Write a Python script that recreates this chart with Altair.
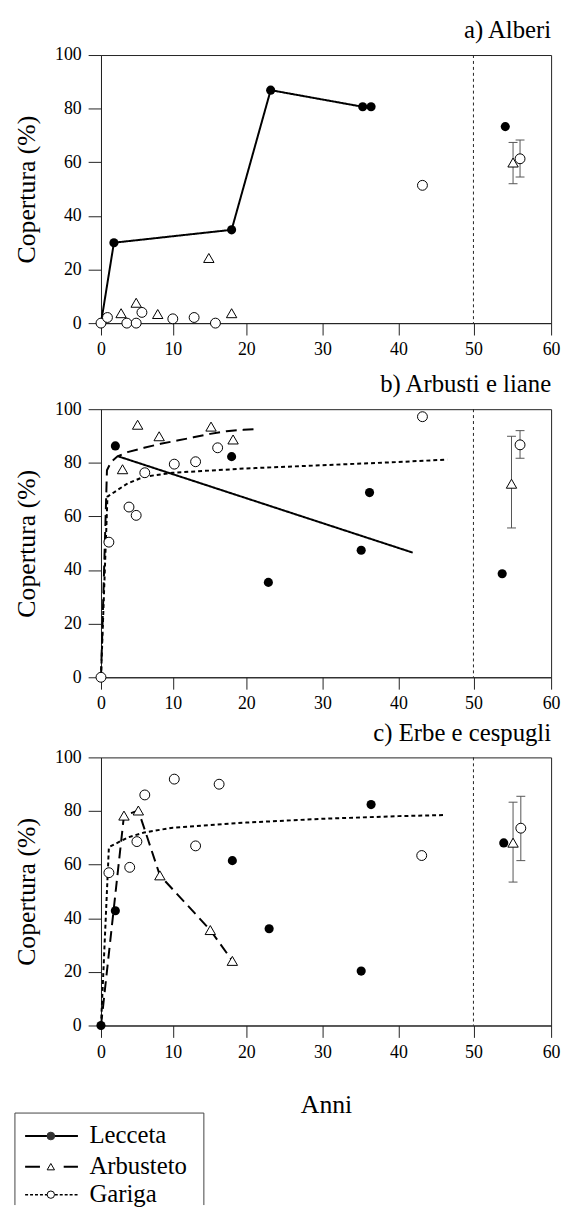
import altair as alt
import pandas as pd

FONT = "Liberation Serif"
W, H = 455, 271

# x axis of the original is slightly non-linear: tick values and their pixel spacing
X_TICKS = [0, 10, 20, 30, 40, 50, 60]
X_RANGE = [0, 72.6, 146.9, 223.8, 300.7, 376.5, 455]
Y_TICKS = [0, 20, 40, 60, 80, 100]
SERIES = ["Lecceta", "Arbusteto", "Gariga"]
TITLES = ["a) Alberi", "b) Arbusti e liane", "c) Erbe e cespugli"]

# ---------------- panel a) Alberi ----------------
a_lec_x = [1.8, 18.0, 23.2, 35.3, 36.4]
a_lec_y = [30.0, 34.8, 86.9, 80.7, 80.7]
a_lec_line_x = [0, 1.8, 18.0, 23.2, 35.3, 36.4]
a_lec_line_y = [0, 30.0, 34.8, 86.9, 80.7, 80.7]
a_arb_x = [2.8, 4.9, 7.9, 14.9, 18.0]
a_arb_y = [3.7, 7.6, 3.4, 24.3, 3.7]
a_gar_x = [0, 0.9, 3.6, 4.9, 5.7, 10.0, 12.9, 15.8, 43.2]
a_gar_y = [0, 2.1, 0, 0, 4.0, 1.6, 2.1, 0, 51.4]
a_ref_lec = [54.1, 73.3]
a_ref_arb = [55.1, 59.9, 52.0, 67.4]
a_ref_gar = [56.0, 61.3, 54.5, 68.3]

# ---------------- panel b) Arbusti e liane ----------------
b_lec_x = [2.0, 18.0, 22.9, 35.1, 36.2]
b_lec_y = [86.3, 82.3, 35.4, 47.4, 68.9]
b_lec_line_x = [2.3, 41.9]
b_lec_line_y = [82.5, 46.5]
b_arb_x = [3.0, 5.1, 8.1, 15.2, 18.2]
b_arb_y = [77.6, 94.2, 89.9, 93.5, 88.7]
b_arb_line_x = [0, 0.83, 1.4, 2.3, 3.7, 6.0, 8.3, 10.6, 12.8, 15.1, 17.3, 19.6, 21.3]
b_arb_line_y = [0, 77.2, 80.3, 82.4, 84.0, 85.6, 87.1, 88.3, 89.5, 90.8, 91.8, 92.3, 92.6]
b_gar_x = [0, 1.1, 3.9, 4.9, 6.1, 10.2, 13.1, 16.1, 43.2]
b_gar_y = [0, 50.4, 63.5, 60.4, 76.3, 79.5, 80.4, 85.6, 97.2]
b_gar_line_x = [0, 0.9, 3.7, 6.0, 10.0, 20.0, 30.0, 40.0, 46.5]
b_gar_line_y = [0, 67.4, 72.3, 74.8, 76.3, 77.9, 79.1, 80.3, 81.2]
b_ref_lec = [53.7, 38.6]
b_ref_arb = [54.9, 72.2, 55.7, 89.9]
b_ref_gar = [56.0, 86.7, 81.7, 92.0]

# ---------------- panel c) Erbe e cespugli ----------------
c_lec_x = [0, 2.0, 18.1, 23.0, 35.1, 36.4]
c_lec_y = [0, 42.8, 61.5, 36.1, 20.3, 82.4]
c_arb_x = [3.2, 5.2, 8.2, 15.1, 18.1]
c_arb_y = [78.3, 80.2, 56.0, 35.6, 24.1]
c_arb_line_x = [0, 3.2, 5.2, 8.2, 15.1, 18.1]
c_arb_line_y = [0, 78.3, 80.2, 56.0, 35.6, 24.1]
c_gar_x = [1.1, 4.0, 5.0, 6.1, 10.2, 13.1, 16.3, 43.1]
c_gar_y = [57.0, 59.0, 68.6, 86.0, 91.9, 67.0, 90.0, 63.4]
c_gar_line_x = [0, 1.1, 3.7, 6.0, 10.0, 20.0, 30.0, 40.0, 46.3]
c_gar_line_y = [0, 66.5, 70.1, 72.0, 73.8, 75.7, 77.1, 78.1, 78.5]
c_ref_lec = [53.9, 68.1]
c_ref_arb = [55.1, 68.2, 53.5, 83.3]
c_ref_gar = [56.1, 73.6, 61.5, 85.5]

REF_LINE = [50]

XS = alt.Scale(domain=X_TICKS, range=X_RANGE, nice=False, zero=False)
YS = alt.Scale(domain=[0, 100], nice=False, zero=False)

DASH = {"Lecceta": [1, 0], "Arbusteto": [11, 6], "Gariga": [4, 3]}


def df_xy(xs, ys):
    return pd.DataFrame({"x": xs, "y": ys, "i": list(range(len(xs)))})


def make_panel(title, lec_pts, lec_line, arb_pts, arb_line, gar_pts, gar_line,
               refs, xtitle=None, legend=False):
    xaxis = alt.Axis(values=X_TICKS, format="d", tickSize=12, labelPadding=6,
                     labelFont=FONT, titleFont=FONT, labelFontSize=18,
                     title=xtitle, titlePadding=31, titleFontSize=26,
                     titleFontWeight="normal")
    yaxis = alt.Axis(values=Y_TICKS, format="d", tickSize=13, labelPadding=7,
                     labelFont=FONT, titleFont=FONT, labelFontSize=18,
                     title="Copertura (%)", titlePadding=15, titleFontSize=26,
                     titleFontWeight="normal")

    def X(f="x"):
        return alt.X(f + ":Q", scale=XS, axis=xaxis)

    def Y(f="y"):
        return alt.Y(f + ":Q", scale=YS, axis=yaxis)

    layers = []
    layers.append(
        alt.Chart(pd.DataFrame({"x": REF_LINE})).mark_rule(
            color="#222", strokeWidth=1, strokeDash=[3, 3]
        ).encode(x=X())
    )
    for name, data in (("Lecceta", lec_line), ("Arbusteto", arb_line), ("Gariga", gar_line)):
        if data is None:
            continue
        layers.append(
            alt.Chart(df_xy(*data)).mark_line(
                color="black", strokeWidth=2, strokeDash=DASH[name]
            ).encode(x=X(), y=Y(), order="i:Q")
        )
    # error bars of reference stands
    eb = pd.DataFrame({"x": [refs[1][0], refs[2][0]], "lo": [refs[1][2], refs[2][2]],
                       "hi": [refs[1][3], refs[2][3]]})
    layers.append(alt.Chart(eb).mark_rule(color="#555", strokeWidth=1).encode(
        x=X(), y=Y("lo"), y2="hi:Q"))
    for f in ("lo", "hi"):
        layers.append(alt.Chart(eb).mark_tick(
            color="#555", orient="horizontal", size=9, thickness=1, opacity=1
        ).encode(x=X(), y=Y(f)))

    arb_all = (list(arb_pts[0]) + [refs[1][0]], list(arb_pts[1]) + [refs[1][1]])
    gar_all = (list(gar_pts[0]) + [refs[2][0]], list(gar_pts[1]) + [refs[2][1]])
    lec_all = (list(lec_pts[0]) + [refs[0][0]], list(lec_pts[1]) + [refs[0][1]])

    layers.append(alt.Chart(df_xy(*arb_all)).mark_point(
        shape="triangle-up", filled=True, fill="white", stroke="black",
        strokeWidth=1, size=110, opacity=1).encode(x=X(), y=Y()))
    layers.append(alt.Chart(df_xy(*gar_all)).mark_point(
        shape="circle", filled=True, fill="white", stroke="black",
        strokeWidth=1, size=100, opacity=1).encode(x=X(), y=Y()))
    layers.append(alt.Chart(df_xy(*lec_all)).mark_point(
        shape="circle", filled=True, fill="black", strokeWidth=0,
        size=85, opacity=1).encode(x=X(), y=Y()))

    layers.append(alt.Chart(pd.DataFrame({"t": [title]})).mark_text(
        align="right", baseline="alphabetic", fontSize=25, font=FONT, color="black"
    ).encode(x=alt.value(W), y=alt.value(-17), text="t:N"))

    if legend:
        one = pd.DataFrame({"a": [0]})
        box_top, box_bot, box_l, box_r = 359.5, 452.5, -87, 104
        layers.append(alt.Chart(one).mark_rule(color="#444", strokeWidth=1).encode(
            x=alt.value(box_l), x2=alt.value(box_r), y=alt.value(box_top)))
        for bx in (box_l, box_r):
            layers.append(alt.Chart(one).mark_rule(color="#444", strokeWidth=1).encode(
                x=alt.value(bx), y=alt.value(box_top), y2=alt.value(box_bot)))
        rows = [382.7, 413.7, 442.0]
        marks = {
            "Lecceta": dict(shape="circle", fill="#333", stroke="#333", size=60),
            "Arbusteto": dict(shape="triangle-up", fill="white", stroke="black", size=55),
            "Gariga": dict(shape="circle", fill="white", stroke="black", size=55),
        }
        for name, ry in zip(SERIES, rows):
            d = pd.DataFrame({"t": [name]})
            layers.append(alt.Chart(d).mark_rule(
                color="black", strokeWidth=2 if name != "Gariga" else 1.5,
                strokeDash=[1, 0] if name == "Lecceta" else ([15, 24] if name == "Arbusteto" else [3, 2])
            ).encode(x=alt.value(-76.7), x2=alt.value(-23.3), y=alt.value(ry)))
            m = marks[name]
            layers.append(alt.Chart(d).mark_point(
                shape=m["shape"], filled=True, fill=m["fill"], stroke=m["stroke"],
                strokeWidth=1, size=m["size"], opacity=1
            ).encode(x=alt.value(-50.7), y=alt.value(ry)))
            layers.append(alt.Chart(d).mark_text(
                align="left", baseline="alphabetic", fontSize=25, font=FONT, color="black"
            ).encode(x=alt.value(-11.7), y=alt.value(ry + 7), text="t:N"))

    return alt.layer(*layers).properties(width=W, height=H)


pa = make_panel(TITLES[0], (a_lec_x, a_lec_y), (a_lec_line_x, a_lec_line_y),
                (a_arb_x, a_arb_y), None, (a_gar_x, a_gar_y), None,
                [a_ref_lec, a_ref_arb, a_ref_gar])
pb = make_panel(TITLES[1], (b_lec_x, b_lec_y), (b_lec_line_x, b_lec_line_y),
                (b_arb_x, b_arb_y), (b_arb_line_x, b_arb_line_y),
                (b_gar_x, b_gar_y), (b_gar_line_x, b_gar_line_y),
                [b_ref_lec, b_ref_arb, b_ref_gar])
pc = make_panel(TITLES[2], (c_lec_x, c_lec_y), None,
                (c_arb_x, c_arb_y), (c_arb_line_x, c_arb_line_y),
                (c_gar_x, c_gar_y), (c_gar_line_x, c_gar_line_y),
                [c_ref_lec, c_ref_arb, c_ref_gar], xtitle="Anni", legend=True)

inner = alt.vconcat(pb, pc, spacing=81, bounds="flush")
chart = alt.vconcat(pa, inner, spacing=87, bounds="flush").properties(
    padding={"left": 5, "top": 3, "right": 0, "bottom": 0}
).configure(font=FONT).configure_view(
    stroke="#222", strokeWidth=1
).configure_axis(
    labelFont=FONT, titleFont=FONT, labelFontSize=18, labelColor="black",
    titleColor="black", titleFontWeight="normal", domainColor="#222",
    tickColor="#222", grid=False, labelFlush=False
).configure_text(font=FONT)

chart.save("out.html", embed_options={"renderer": "svg", "actions": False})
